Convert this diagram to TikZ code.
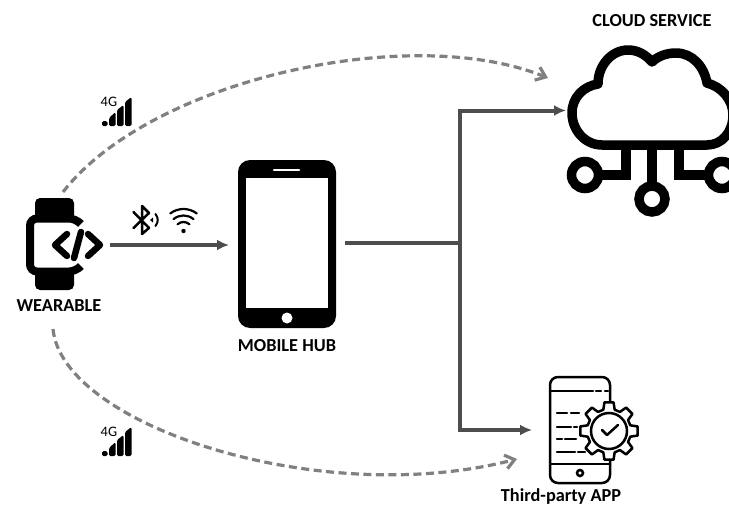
\documentclass[tikz,border=0pt]{standalone}
\usepackage{fontspec}
\setmainfont{Carlito}
\usetikzlibrary{positioning,calc,arrows.meta}
\definecolor{linedark}{HTML}{4D4D4D}
\definecolor{linegrey}{HTML}{808080}
\tikzset{
  pics/signal/.style={code={
    \node[anchor=north west, inner sep=0pt, font=\fontsize{14.5}{14.5}\selectfont] (-text) at (-0.5,-1.5) {4G};
    \fill[rounded corners=1.5] (1,28) rectangle (6.5,23);
    \fill[rounded corners=1.5] (8,28) -- (8,20) -- (14.5,14) -- (14.5,28) -- cycle;
    \fill[rounded corners=1.5] (16,28) -- (16,12) -- (22.5,7) -- (22.5,28) -- cycle;
    \fill[rounded corners=1.5] (24,28) -- (24,4) -- (30.5,-1) -- (30.5,28) -- cycle;
  }}
}
\begin{document}
\begin{tikzpicture}[x=1pt,y=-1pt]
\tikzstyle{every node}=[font=\fontsize{18.3}{20}\selectfont\bfseries, inner sep=0pt]
\tikzstyle{solidarrow}=[-{Latex[length=12pt,width=11pt]}, line width=4pt, color=linedark]
\tikzstyle{dashedarrow}=[-{Straight Barb[length=9pt,width=14pt]}, line width=3.2pt, color=linegrey, dash pattern=on 8pt off 4.5pt]
\tikzstyle{iconbox}=[rectangle, inner sep=0pt, outer sep=0pt]
\tikzstyle{cloudline}=[line width=9.5pt, line join=round, line cap=round]
\tikzstyle{thinline}=[line width=2.5pt, line cap=round]
\path[use as bounding box, clip] (0,0) rectangle (729,506);

\node[iconbox, minimum width=92pt, minimum height=92pt] at (64,245) (wearable) {};
\node[iconbox, minimum width=98pt, minimum height=168pt, fill=black,
rounded corners=12pt, outer sep=9pt] at (287,244) (hub) {};
\node[iconbox, minimum width=82pt, minimum height=130pt, fill=white] at (287,243) (screen) {};
\node[iconbox, minimum width=172pt, minimum height=100pt] at (652,110.5) (cloud) {};
\node[iconbox, minimum width=100pt, minimum height=106pt] at (582,430) (app) {};

\node at (59,306) (wearable_label) {WEARABLE};
\node at (287,346) (hub_label) {MOBILE HUB};
\node at (652,21) (cloud_label) {CLOUD SERVICE};
\node at (561,497) (app_label) {Third-party APP};

% watch
\fill[rounded corners=5] (35,220) -- (35,198) -- (74,198) -- (74,220) -- cycle;
\fill[rounded corners=5] (35,270) -- (35,290) -- (74,290) -- (74,270) -- cycle;
\draw[line width=8pt, line cap=round, rounded corners=7] (79.5,222.5) -- (76,218.5) -- (30,218.5) -- (30,271.5) -- (76,271.5) -- (79.5,267.5);
\draw[line width=6.5pt, line cap=round, line join=round] (67,234) -- (55,245) -- (67,256);
\draw[line width=6.5pt, line cap=round, line join=round] (88,234) -- (100,245) -- (88,256);
\draw[line width=6.5pt, line cap=round] (81,232) -- (74,258);

% phone details
\draw[white, line width=2.5pt, line cap=round] (274,170) -- (299,170);
\fill[white] (287,318) circle (5.5);

% cloud
\draw[cloudline] (602,145) .. controls (585,145) and (572,130) .. (572,113)
.. controls (572,97) and (584,86) .. (598,84)
.. controls (598,65) and (612,50) .. (628,50)
.. controls (638,50) and (646,55) .. (652,62)
.. controls (658,56) and (667,53) .. (676,53)
.. controls (692,53) and (704,66) .. (707,83)
.. controls (722,87) and (733,100) .. (733,115)
.. controls (733,132) and (722,145) .. (707,145) -- cycle;
\draw[line width=9.5pt, line join=miter] (626,145) -- (626,175) -- (600,175);
\draw[line width=9.5pt] (652,145) -- (652,186);
\draw[line width=9.5pt, line join=miter] (679,145) -- (679,175) -- (705,175);
\draw[line width=9.5pt] (585,175) circle (13.5);
\draw[line width=9.5pt] (652,199) circle (13);
\draw[line width=9.5pt] (722,175) circle (13.5);

% third party app
\draw[thinline, rounded corners=8] (610,408) -- (610,377) -- (550,377) -- (550,483) -- (610,483) -- (610,457);
\draw[thinline] (550,391) -- (593,391);
\draw[thinline] (596,391) -- (601,391);
\draw[thinline] (605,391) -- (608,391);
\draw[thinline] (550,464) -- (610,464);
\draw[thinline] (580,473) circle (3);
\draw[thinline] (557,413) -- (567,413);
\draw[thinline] (571,413) -- (579,413);
\draw[thinline] (557,427) -- (571,427);
\draw[thinline] (574,427) -- (577,427);
\draw[thinline] (557,439) -- (562,439);
\draw[thinline] (565,439) -- (576,439);
\draw[thinline] (557,452) -- (575,452);
\draw[thinline] (578,452) -- (585,452);
\draw[thinline, fill=white, line join=round] (609,431) ++(-15:22)
\foreach \a in {0,45,...,315} { -- ($(609,431)+(\a-15:22)$) -- ($(609,431)+(\a-9:29)$) -- ($(609,431)+(\a+9:29)$) -- ($(609,431)+(\a+15:22)$) } -- cycle;
\draw[thinline] (609,431) circle (18);
\draw[thinline, line join=round] (602,430) -- (607,435) -- (618,425);

% radio icons
\pic at (101,98) (signal_top) {signal};
\pic at (101,428) (signal_bottom) {signal};
\draw[line width=2.5pt, line join=round, line cap=round] (133.5,212) -- (149,228) -- (142,234) -- (142,206) -- (149,213) -- (133.5,228);
\fill (150,220) -- (153,217.5) -- (153,222.5) -- cycle;
\draw[line width=2pt, line cap=round] (155.5,214) .. controls (158.5,218) and (158.5,222) .. (155.5,226);
\draw[line width=2.2pt, line cap=round] (183.5,231) ++(233:22) arc[start angle=233, end angle=307, radius=22];
\draw[line width=2.2pt, line cap=round] (183.5,231) ++(230:15.5) arc[start angle=230, end angle=310, radius=15.5];
\draw[line width=2.2pt, line cap=round] (183.5,231) ++(228:9) arc[start angle=228, end angle=312, radius=9];
\fill (183.5,231) circle (2.2);

\coordinate (junction) at (460,243);
\coordinate (cloud_in) at (548,78);
\coordinate (app_in) at (517,459);
\coordinate (wearable_top) at (63,192);
\coordinate (wearable_bottom) at (53,329);

\draw[solidarrow] (wearable.east) -- (hub.west |- wearable.east);
\draw[line width=4pt, color=linedark] (hub.east |- junction) -- (junction);
\draw[solidarrow] (junction) |- (cloud.west);
\draw[solidarrow] (junction) |- (app.west);

\draw[dashedarrow] (wearable_top) .. controls (150,80) and (410,22) .. (cloud_in);
\draw[dashedarrow] (wearable_bottom) .. controls (62,425) and (320,510) .. (app_in);

\end{tikzpicture}
\end{document}
